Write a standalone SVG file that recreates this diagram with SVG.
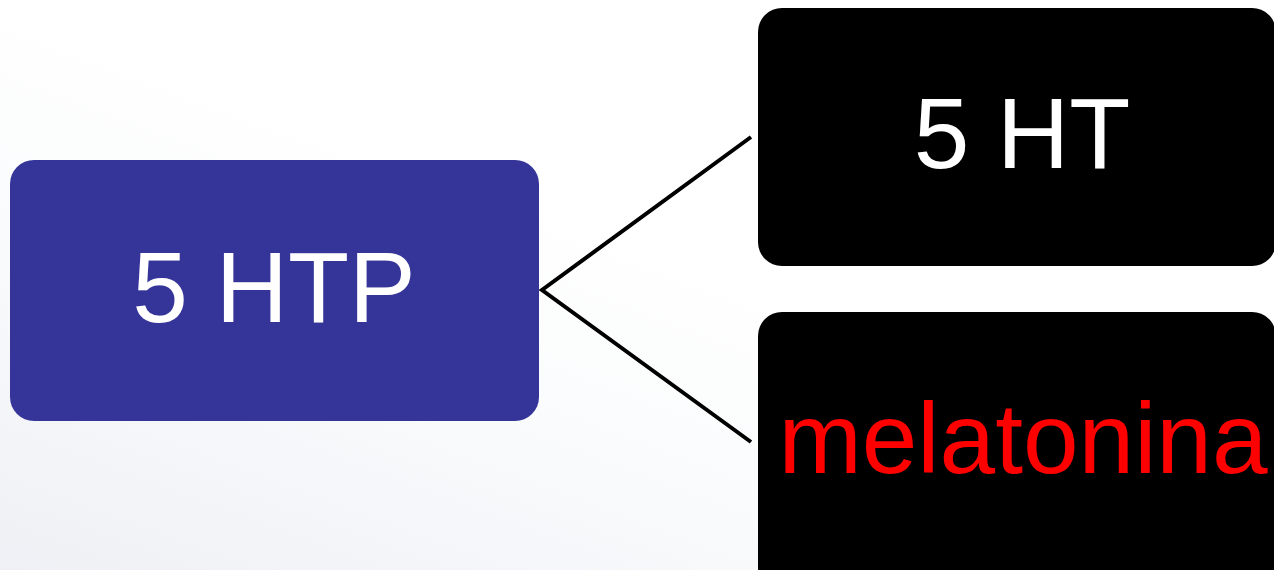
<svg xmlns="http://www.w3.org/2000/svg" width="1274" height="570" viewBox="0 0 1274 570">
<defs>
<linearGradient id="bg" x1="0" y1="1" x2="0.5" y2="0.4">
<stop offset="0" stop-color="#eef0f5"/>
<stop offset="0.6" stop-color="#fafbfc"/>
<stop offset="1" stop-color="#ffffff"/>
</linearGradient>
<style>
.lbl{font-family:"Liberation Sans",Arial,sans-serif;font-size:100px;text-anchor:middle}
.conn{stroke:#000;stroke-width:4;fill:none}
</style>
</defs>
<rect x="0" y="0" width="1274" height="570" fill="url(#bg)"/>
<g id="connectors">
<polyline class="conn" points="751,137 542,290 751,442"/>
</g>
<g id="node-5htp">
<rect x="10" y="160" width="529" height="261" rx="24" fill="#353599"/>
<text class="lbl" x="274" y="322" fill="#ffffff">5 HTP</text>
</g>
<g id="node-5ht">
<rect x="758" y="8" width="518" height="258" rx="24" fill="#000000"/>
<text class="lbl" x="1022" y="168" fill="#ffffff">5 HT</text>
</g>
<g id="node-melatonina">
<rect x="758" y="312" width="518" height="280" rx="24" fill="#000000"/>
<text class="lbl" x="1023" y="473" fill="#ff0000">melatonina</text>
</g>
</svg>
